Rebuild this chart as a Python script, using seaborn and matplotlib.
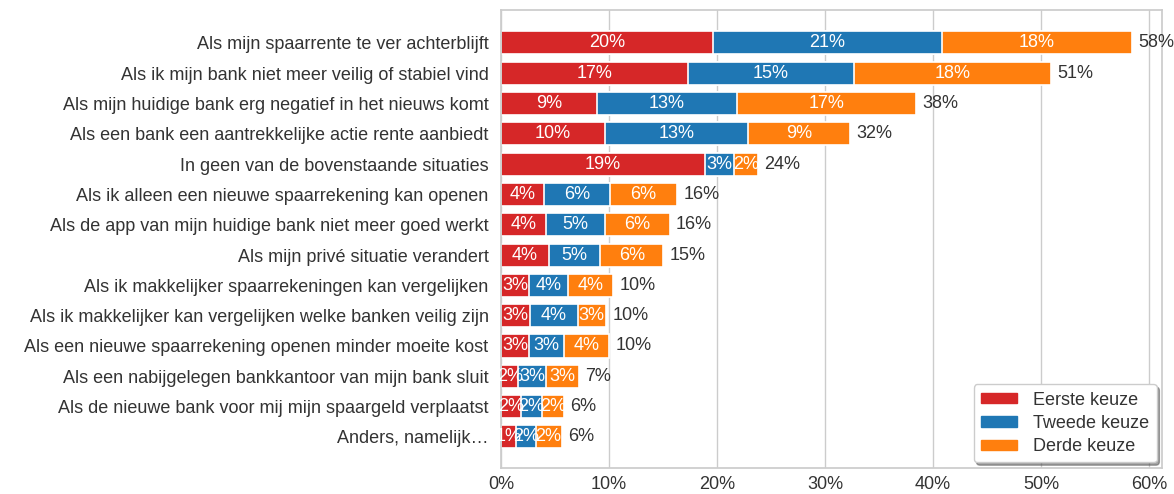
import numpy as np
import pandas as pd
import matplotlib
matplotlib.use("Agg")
import matplotlib.pyplot as plt
import seaborn as sns

categories = [
    "Als mijn spaarrente te ver achterblijft",
    "Als ik mijn bank niet meer veilig of stabiel vind",
    "Als mijn huidige bank erg negatief in het nieuws komt",
    "Als een bank een aantrekkelijke actie rente aanbiedt",
    "In geen van de bovenstaande situaties",
    "Als ik alleen een nieuwe spaarrekening kan openen",
    "Als de app van mijn huidige bank niet meer goed werkt",
    "Als mijn privé situatie verandert",
    "Als ik makkelijker spaarrekeningen kan vergelijken",
    "Als ik makkelijker kan vergelijken welke banken veilig zijn",
    "Als een nieuwe spaarrekening openen minder moeite kost",
    "Als een nabijgelegen bankkantoor van mijn bank sluit",
    "Als de nieuwe bank voor mij mijn spaargeld verplaatst",
    "Anders, namelijk\u2026",
]
eerste = [19.6, 17.3, 8.9, 9.6, 18.9, 4.0, 4.2, 4.4, 2.6, 2.7, 2.6, 1.6, 1.8, 1.4]
tweede = [21.2, 15.4, 12.9, 13.3, 2.7, 6.1, 5.4, 4.8, 3.6, 4.4, 3.2, 2.6, 2.0, 1.8]
derde = [17.6, 18.2, 16.6, 9.4, 2.2, 6.2, 6.0, 5.8, 4.2, 2.6, 4.2, 3.0, 2.0, 2.4]
series_names = ["Eerste keuze", "Tweede keuze", "Derde keuze"]
colors = ["#d62728", "#1f77b4", "#ff7f0e"]

df = pd.DataFrame({"cat": categories, "e": eerste, "t": tweede, "d": derde})
df["c1"] = df["e"]
df["c2"] = df["e"] + df["t"]
df["c3"] = df["c2"] + df["d"]

sns.set_theme(style="whitegrid")
plt.rcParams["font.family"] = ["Liberation Sans", "DejaVu Sans"]
fs = 13

fig, ax = plt.subplots(figsize=(11.74, 4.94), dpi=100)
fig.subplots_adjust(left=0.4268, right=0.9898, top=0.98, bottom=0.053)

# stacked bars: draw the cumulative totals back to front
for col, color in zip(["c3", "c2", "c1"], colors[::-1]):
    sns.barplot(data=df, x=col, y="cat", orient="h", color=color, saturation=1,
                width=0.76, edgecolor="white", linewidth=1.2, ax=ax)

# labels inside the segments
for i, row in df.iterrows():
    starts = [0, row["c1"], row["c2"]]
    vals = [row["e"], row["t"], row["d"]]
    for s, v in zip(starts, vals):
        ax.text(s + v / 2, i, f"{round(v)}%", ha="center", va="center",
                color="white", fontsize=fs)
    ax.text(row["c3"] + 0.6, i, f"{round(row['c3'])}%", ha="left", va="center",
            color="#333333", fontsize=fs)

ax.set_xlim(0, 61.2)
ax.set_ylim(len(categories) - 1 + 1.02, -1.09)
ax.set_xticks(np.arange(0, 61, 10))
ax.set_xticklabels([f"{t}%" for t in range(0, 61, 10)])
ax.set_xlabel("")
ax.set_ylabel("")
ax.grid(axis="y", visible=False)
ax.tick_params(axis="y", labelsize=fs, pad=9, length=0)
ax.tick_params(axis="x", labelsize=fs, pad=6, length=0)
for lab in ax.get_yticklabels() + ax.get_xticklabels():
    lab.set_color("#333333")

handles = [plt.Rectangle((0, 0), 1, 1, color=c) for c in colors]
leg = ax.legend(handles, series_names, loc="lower right", fontsize=fs, frameon=True,
                shadow=True, fancybox=True, handlelength=2.0, handleheight=0.5,
                borderpad=0.4, labelspacing=0.35, handletextpad=0.9,
                borderaxespad=0.3)
for t in leg.get_texts():
    t.set_color("#333333")

fig.savefig("out.png", dpi=100)
